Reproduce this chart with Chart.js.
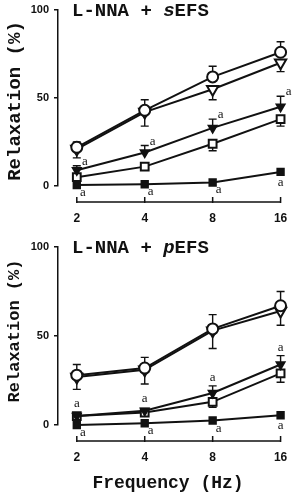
<!DOCTYPE html>
<html><head><meta charset="utf-8">
<script src="https://cdn.jsdelivr.net/npm/chart.js@4"></script>
<style>html,body{margin:0;padding:0;background:#fff;}canvas{display:block;}</style>
</head><body>
<canvas id="c1" width="296" height="230"></canvas>
<canvas id="c2" width="296" height="262"></canvas>
<script>
// ---- data ----
const frequencies = [2, 4, 8, 16];
const xTickLabels = ['2', '4', '8', '16'];
const yTickValues = [0, 50, 100];
const yTitle = 'Relaxation (%)';
const xTitle = 'Frequency (Hz)';

// top panel: L-NNA + sEFS
const sEFS_circle = [22, 43, 62, 76];
const sEFS_openTri = [21, 42, 55, 70];
const sEFS_fillTri = [9, 19, 33, 45];
const sEFS_openSq = [5, 11, 24, 38];
const sEFS_fillSq = [0.5, 1, 2, 8];
const sEFS_circle_errUp = [3, 6, 6, 6];
const sEFS_openTri_errDown = [5, 8, 6, 5];
const sEFS_fillTri_errUp = [2.5, 4, 5, 6];
const sEFS_openSq_errDown = [null, null, 4, 4];
const sEFS_fillTri_sig = ['a', 'a', 'a', 'a'];
const sEFS_fillSq_sig = ['a', 'a', 'a', 'a'];

// bottom panel: L-NNA + pEFS
const pEFS_circle = [28, 32, 54, 67];
const pEFS_openTri = [27, 31, 53, 64];
const pEFS_fillTri = [5, 8, 18, 34];
const pEFS_openSq = [5, 7, 13, 29];
const pEFS_fillSq = [0, 1, 2.5, 5.5];
const pEFS_circle_errUp = [6, 6, 8, 8];
const pEFS_openTri_errDown = [7, 8, 10, 8];
const pEFS_fillTri_errUp = [null, null, 4, 5];
const pEFS_openSq_errDown = [null, null, 3, 5];
const pEFS_fillTri_sig = ['a', 'a', 'a', 'a'];
const pEFS_fillSq_sig = ['a', 'a', 'a', 'a'];

// ---- drawing ----
const INK = '#111';
const pts = arr => frequencies.map((f, i) => ({x: f, y: arr[i]}));

function series(values, style, radius, fill, rot) {
  return {
    data: pts(values), borderColor: INK, borderWidth: 2, tension: 0,
    pointStyle: style, pointRadius: radius, pointHoverRadius: radius,
    pointBackgroundColor: fill, pointBorderColor: INK, pointBorderWidth: 2,
    pointRotation: rot || 0, clip: false
  };
}

function makeChart(id, p) {
  const decor = {
    id: 'decor',
    beforeDatasetsDraw(chart) {
      const ctx = chart.ctx, xs = chart.scales.x, ys = chart.scales.y;
      ctx.save();
      ctx.strokeStyle = INK; ctx.lineWidth = 1.4;
      p.errors.forEach(e => {
        frequencies.forEach((f, i) => {
          const m = e.err[i];
          if (m == null) return;
          const x = xs.getPixelForValue(f);
          const y0 = ys.getPixelForValue(e.values[i]);
          const y1 = ys.getPixelForValue(e.values[i] + e.dir * m);
          ctx.beginPath();
          ctx.moveTo(x, y0); ctx.lineTo(x, y1);
          ctx.moveTo(x - 4, y1); ctx.lineTo(x + 4, y1);
          ctx.stroke();
        });
      });
      ctx.restore();
    },
    afterDraw(chart) {
      const ctx = chart.ctx, xs = chart.scales.x, ys = chart.scales.y, ca = chart.chartArea;
      ctx.save();
      // x axis line, offset below plot
      const ay = ca.bottom + 16;
      const xl = xs.getPixelForValue(frequencies[0]);
      const xr = xs.getPixelForValue(frequencies[frequencies.length - 1]);
      ctx.strokeStyle = INK; ctx.lineWidth = 1.5;
      ctx.beginPath();
      ctx.moveTo(xl, ay); ctx.lineTo(xr, ay);
      frequencies.forEach(f => {
        const x = xs.getPixelForValue(f);
        ctx.moveTo(x, ay + 1); ctx.lineTo(x, ay - 5);
      });
      ctx.stroke();
      ctx.fillStyle = INK;
      // panel title
      ctx.textBaseline = 'alphabetic'; ctx.textAlign = 'left';
      let tx = 72;
      const ty = ca.top + 6;
      p.title.forEach(part => {
        ctx.font = (part.it ? 'italic ' : '') + 'bold 19px "Liberation Mono"';
        ctx.fillText(part.t, tx, ty);
        tx += ctx.measureText(part.t).width;
      });
      // y title
      ctx.save();
      ctx.translate(15, p.yTitleY);
      ctx.rotate(-Math.PI / 2);
      ctx.textAlign = 'center'; ctx.textBaseline = 'middle';
      ctx.font = 'bold ' + p.yTitleSize + 'px "Liberation Mono"';
      ctx.fillText(yTitle, 0, 0);
      ctx.restore();
      // x title
      if (p.showXTitle) {
        ctx.textAlign = 'center'; ctx.textBaseline = 'middle';
        ctx.font = 'bold 18px "Liberation Mono"';
        ctx.fillText(xTitle, 168, ca.bottom + 58);
      }
      // significance marks
      ctx.font = '13px "Liberation Serif"';
      ctx.textAlign = 'center'; ctx.textBaseline = 'alphabetic';
      p.sigs.forEach(s => {
        frequencies.forEach((f, i) => {
          if (!s.marks[i]) return;
          const x = xs.getPixelForValue(f);
          const yv = ys.getPixelForValue(s.values[i]);
          let cx, cy;
          if (s.place === 'right') {
            const tip = s.err && s.err[i] != null ? ys.getPixelForValue(s.values[i] + s.err[i]) : yv - 4;
            cx = x + 8; cy = tip - 4;
          } else if (s.place === 'above') {
            const tip = s.err && s.err[i] != null ? ys.getPixelForValue(s.values[i] + s.err[i]) : yv - 4;
            cx = x; cy = tip - 8;
          } else {
            if (i === frequencies.length - 1) { cx = x; cy = yv + 11; }
            else { cx = x + 6; cy = yv + 8; }
          }
          ctx.fillText(s.marks[i], cx, cy + 3);
        });
      });
      ctx.restore();
    }
  };

  return new Chart(document.getElementById(id), {
    type: 'line',
    data: {
      datasets: [
        series(p.circle, 'circle', 5.5, '#fff'),
        series(p.openTri, 'triangle', 6.5, '#fff', 180),
        series(p.fillTri, 'triangle', 4.5, INK, 180),
        series(p.openSq, 'rect', 5.5, '#fff'),
        series(p.fillSq, 'rect', 4.5, INK)
      ]
    },
    options: {
      responsive: false, animation: false, devicePixelRatio: 1,
      layout: {padding: {top: p.padTop, right: 6, left: 0, bottom: 0}},
      plugins: {legend: {display: false}, tooltip: {enabled: false}},
      scales: {
        x: {
          type: 'logarithmic', min: 1.651, max: 17.17,
          afterBuildTicks: s => { s.ticks = frequencies.map(v => ({value: v})); },
          afterFit: s => { s.height = p.xHeight; s.paddingLeft = 0; s.paddingRight = 0; },
          grid: {display: false}, border: {display: false},
          ticks: {
            autoSkip: false, maxRotation: 0, padding: 17, color: INK,
            font: {family: '"Liberation Sans"', size: 12, weight: 'bold'},
            callback: (v, i) => xTickLabels[i]
          }
        },
        y: {
          min: 0, max: 100,
          afterBuildTicks: s => { s.ticks = yTickValues.map(v => ({value: v})); },
          afterFit: s => { s.width = 58; s.paddingTop = 0; s.paddingBottom = 0; },
          grid: {drawOnChartArea: false, drawTicks: true, tickLength: 4, color: INK, lineWidth: 1.5},
          border: {display: true, color: INK, width: 1.5},
          ticks: {
            padding: 5, color: INK,
            font: {family: '"Liberation Sans"', size: 11, weight: 'bold'}
          }
        }
      }
    },
    plugins: [decor]
  });
}

makeChart('c1', {
  circle: sEFS_circle, openTri: sEFS_openTri, fillTri: sEFS_fillTri, openSq: sEFS_openSq, fillSq: sEFS_fillSq,
  errors: [
    {values: sEFS_circle, err: sEFS_circle_errUp, dir: 1},
    {values: sEFS_openTri, err: sEFS_openTri_errDown, dir: -1},
    {values: sEFS_fillTri, err: sEFS_fillTri_errUp, dir: 1},
    {values: sEFS_openSq, err: sEFS_openSq_errDown, dir: -1}
  ],
  sigs: [
    {values: sEFS_fillTri, err: sEFS_fillTri_errUp, marks: sEFS_fillTri_sig, place: 'right'},
    {values: sEFS_fillSq, marks: sEFS_fillSq_sig, place: 'below'}
  ],
  title: [{t: 'L-NNA + '}, {t: 's', it: true}, {t: 'EFS'}],
  padTop: 10, xHeight: 44, yTitleSize: 19, yTitleY: 101, showXTitle: false
});

makeChart('c2', {
  circle: pEFS_circle, openTri: pEFS_openTri, fillTri: pEFS_fillTri, openSq: pEFS_openSq, fillSq: pEFS_fillSq,
  errors: [
    {values: pEFS_circle, err: pEFS_circle_errUp, dir: 1},
    {values: pEFS_openTri, err: pEFS_openTri_errDown, dir: -1},
    {values: pEFS_fillTri, err: pEFS_fillTri_errUp, dir: 1},
    {values: pEFS_openSq, err: pEFS_openSq_errDown, dir: -1}
  ],
  sigs: [
    {values: pEFS_fillTri, err: pEFS_fillTri_errUp, marks: pEFS_fillTri_sig, place: 'above'},
    {values: pEFS_fillSq, marks: pEFS_fillSq_sig, place: 'below'}
  ],
  title: [{t: 'L-NNA + '}, {t: 'p', it: true}, {t: 'EFS'}],
  padTop: 17, xHeight: 67, yTitleSize: 17, yTitleY: 101, showXTitle: true
});
</script>
</body></html>
